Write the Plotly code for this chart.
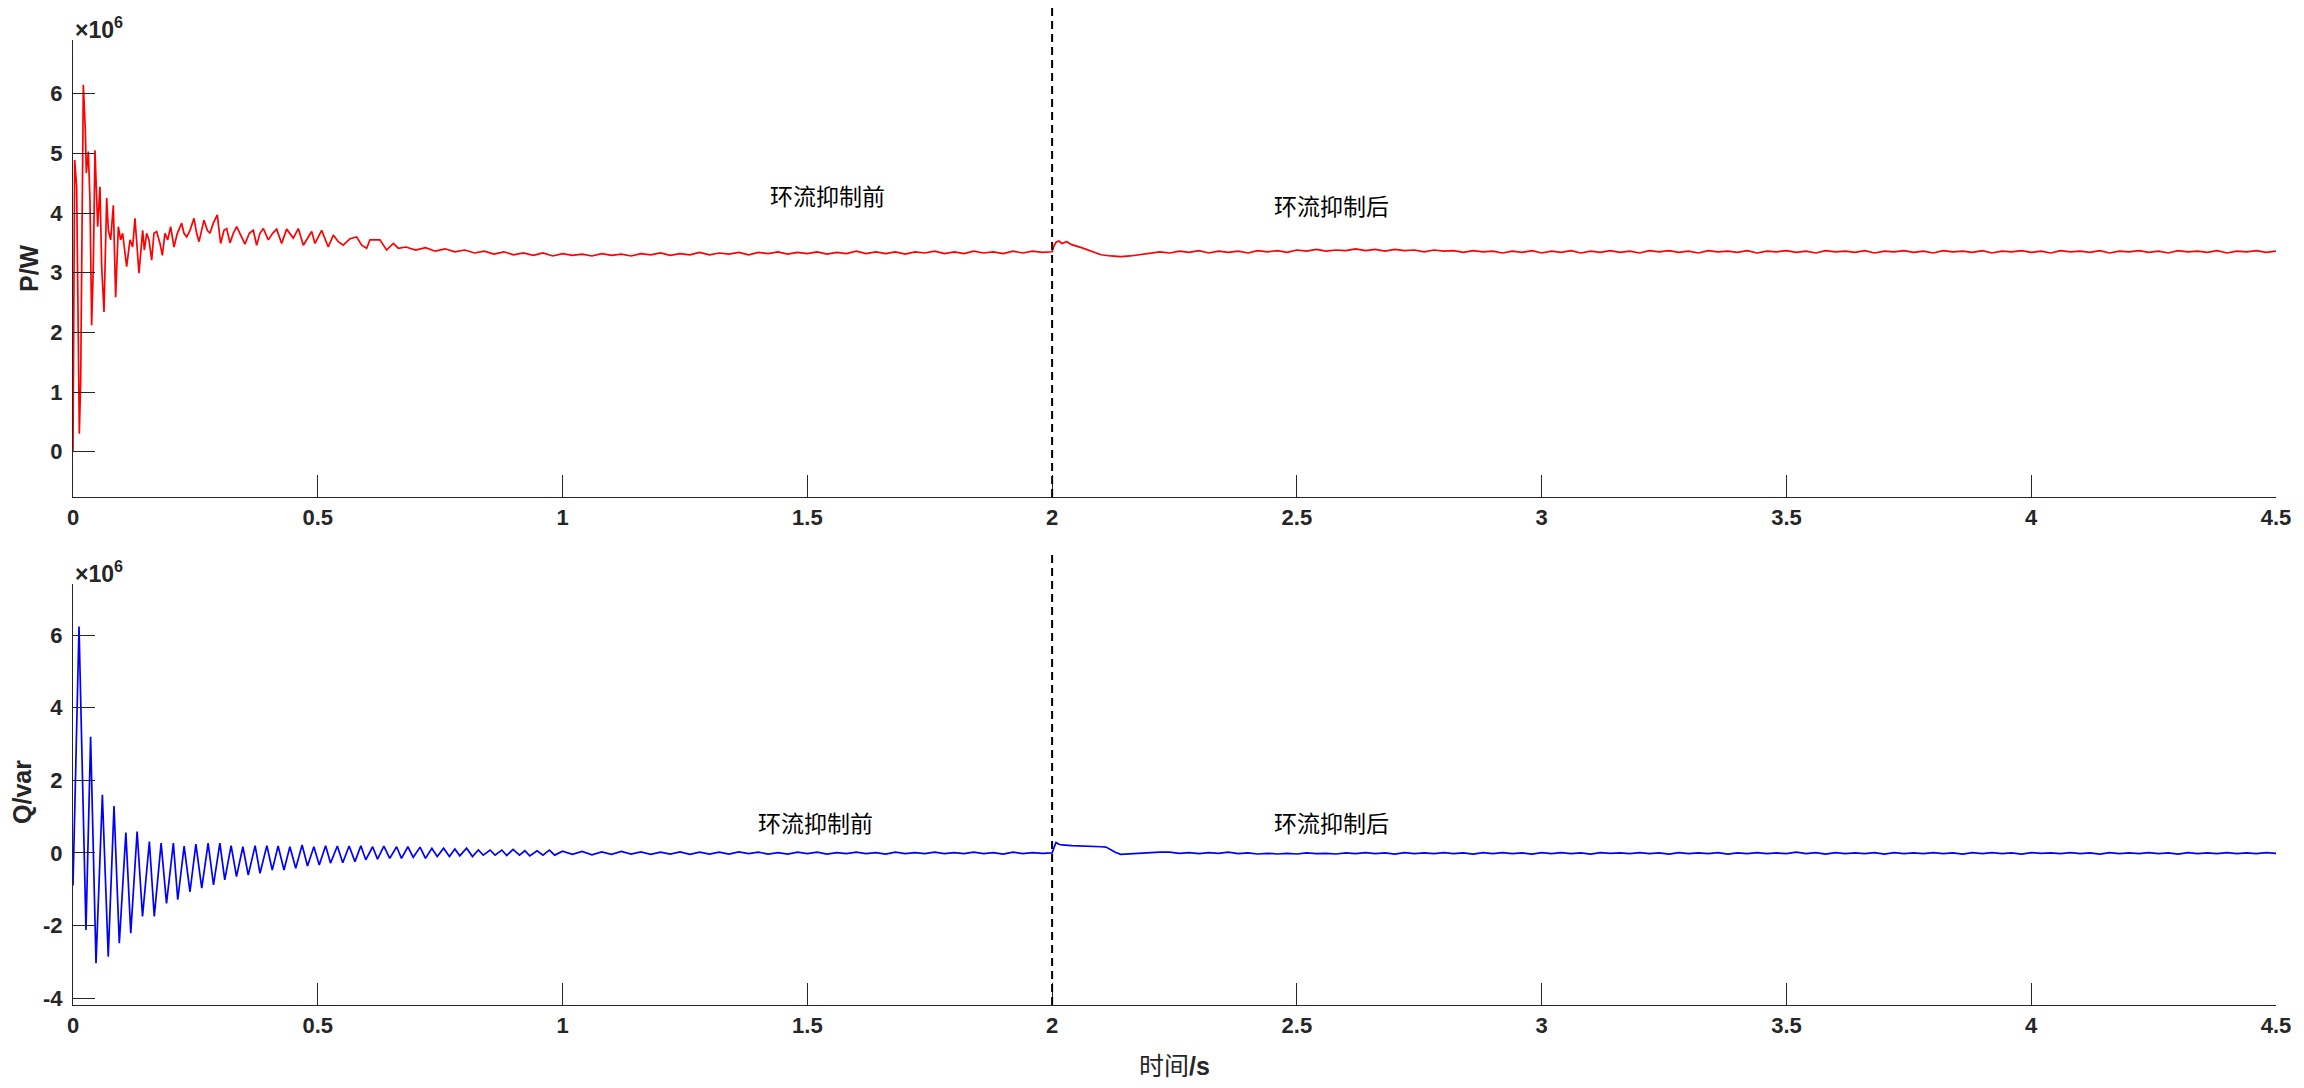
import plotly.graph_objects as go

PAGE_W, PAGE_H = 2304, 1088
OFF = 8  # default HTML body margin
W, H = PAGE_W - OFF, PAGE_H - OFF
SWITCH_T = 2.0
STEP = 0.02

x_tickvals = [0, 0.5, 1, 1.5, 2, 2.5, 3, 3.5, 4, 4.5]
x_ticktext = ["0", "0.5", "1", "1.5", "2", "2.5", "3", "3.5", "4", "4.5"]
p_tickvals = [0, 1, 2, 3, 4, 5, 6]
q_tickvals = [-4, -2, 0, 2, 4, 6]

# ---------- P (x1e6 W) ----------
p_t_transient = [0.0, 0.0034, 0.0075, 0.0102, 0.0129, 0.0157, 0.0184, 0.0211, 0.0252, 0.0272,
                 0.0313, 0.0347, 0.0381, 0.0415, 0.0449, 0.0483, 0.0504, 0.0551, 0.0586, 0.0633,
                 0.0688, 0.0722, 0.0769, 0.0824, 0.0871, 0.0926, 0.0974, 0.1014, 0.1096, 0.1164,
                 0.1219, 0.1266, 0.1348, 0.1423, 0.1457, 0.1505, 0.1552, 0.1607, 0.1654, 0.1709,
                 0.1777, 0.1825, 0.1879, 0.1934, 0.1995, 0.2063, 0.2131, 0.2220, 0.2267, 0.2322,
                 0.2390, 0.2471, 0.2526, 0.2574, 0.2628, 0.2676, 0.2744, 0.2798, 0.2866, 0.2948,
                 0.2975, 0.3016, 0.3084, 0.3139, 0.3207, 0.3275, 0.3343, 0.3411, 0.3513, 0.3602,
                 0.3683, 0.3751, 0.3819, 0.3888, 0.3990, 0.4078, 0.4160, 0.4262, 0.4364, 0.4500,
                 0.4602, 0.4705, 0.4875, 0.4943, 0.5079, 0.5215, 0.5317, 0.5419, 0.5521, 0.5658,
                 0.5794, 0.5896, 0.5998, 0.6066, 0.6270, 0.6406, 0.6543, 0.6645]
p_transient = [0.00, 4.89, 4.44, 2.54, 0.30, 1.19, 3.66, 6.15, 5.39, 4.67,
               5.03, 4.22, 2.12, 3.10, 5.05, 4.22, 3.77, 4.44, 3.10, 2.34,
               4.25, 3.71, 3.55, 4.13, 2.59, 3.77, 3.55, 3.66, 3.10, 3.55,
               3.43, 3.91, 2.99, 3.71, 3.38, 3.66, 3.55, 3.21, 3.66, 3.69,
               3.49, 3.29, 3.66, 3.55, 3.77, 3.43, 3.66, 3.83, 3.66, 3.60,
               3.71, 3.91, 3.66, 3.52, 3.71, 3.88, 3.71, 3.66, 3.83, 3.97,
               3.77, 3.49, 3.71, 3.74, 3.50, 3.66, 3.77, 3.66, 3.48, 3.66,
               3.71, 3.46, 3.66, 3.74, 3.55, 3.66, 3.73, 3.49, 3.73, 3.58,
               3.74, 3.46, 3.69, 3.49, 3.71, 3.43, 3.63, 3.52, 3.46, 3.57,
               3.60, 3.46, 3.41, 3.55, 3.55, 3.38, 3.49, 3.41]
p_steady1_start = 0.68
p_steady1 = [3.43, 3.38, 3.42, 3.36, 3.40, 3.35, 3.38, 3.33, 3.36, 3.31,
             3.35, 3.30, 3.33, 3.29, 3.33, 3.28, 3.32, 3.29, 3.31, 3.28,
             3.32, 3.29, 3.31, 3.28, 3.32, 3.30, 3.33, 3.29, 3.32, 3.30,
             3.34, 3.30, 3.33, 3.31, 3.34, 3.30, 3.34, 3.32, 3.35, 3.31,
             3.34, 3.32, 3.35, 3.31, 3.34, 3.32, 3.36, 3.32, 3.35, 3.32,
             3.35, 3.31, 3.35, 3.33, 3.36, 3.32, 3.35, 3.32, 3.36, 3.33,
             3.35, 3.32, 3.36, 3.33, 3.36, 3.34]
p_t_switch = [2.0, 2.004, 2.008, 2.014, 2.02, 2.03, 2.04, 2.06, 2.08, 2.10,
              2.12, 2.14, 2.16, 2.18, 2.20, 2.22]
p_switch = [3.35, 3.45, 3.51, 3.53, 3.49, 3.52, 3.47, 3.42, 3.36, 3.30,
            3.28, 3.27, 3.28, 3.30, 3.32, 3.35]
p_steady2_start = 2.24
p_steady2 = [3.33, 3.36, 3.34, 3.37, 3.33, 3.36, 3.34, 3.36, 3.33, 3.37,
             3.35, 3.37, 3.34, 3.38, 3.36, 3.39, 3.36, 3.38, 3.37, 3.40,
             3.37, 3.39, 3.36, 3.39, 3.37, 3.38, 3.35, 3.38, 3.36, 3.37,
             3.34, 3.37, 3.35, 3.36, 3.33, 3.36, 3.34, 3.37, 3.33, 3.36,
             3.34, 3.37, 3.33, 3.36, 3.34, 3.37, 3.34, 3.36, 3.33, 3.37,
             3.35, 3.37, 3.34, 3.36, 3.33, 3.37, 3.35, 3.36, 3.34, 3.37,
             3.33, 3.36, 3.35, 3.37, 3.34, 3.36, 3.33, 3.37, 3.35, 3.36,
             3.34, 3.37, 3.33, 3.36, 3.35, 3.37, 3.34, 3.36, 3.33, 3.37,
             3.35, 3.36, 3.34, 3.37, 3.33, 3.36, 3.35, 3.37, 3.34, 3.36,
             3.33, 3.37, 3.35, 3.36, 3.34, 3.37, 3.33, 3.36, 3.35, 3.37,
             3.34, 3.36, 3.33, 3.37, 3.35, 3.36, 3.34, 3.37, 3.33, 3.36,
             3.35, 3.37, 3.34, 3.36]

# ---------- Q (x1e6 var) ----------
q_t_transient = [0.0, 0.002, 0.0123, 0.0265, 0.036, 0.047, 0.060, 0.072, 0.0838, 0.0946,
                 0.108, 0.118, 0.131, 0.142, 0.156, 0.166, 0.180, 0.191, 0.205, 0.214,
                 0.227, 0.239, 0.251, 0.263, 0.276, 0.287, 0.300, 0.310, 0.323, 0.334,
                 0.347, 0.358, 0.372, 0.382, 0.396, 0.407, 0.419, 0.431, 0.443, 0.455,
                 0.468, 0.479, 0.492, 0.503, 0.516, 0.526, 0.540, 0.551, 0.564, 0.576,
                 0.588, 0.598, 0.612, 0.622, 0.635, 0.647, 0.661, 0.671, 0.684, 0.695,
                 0.709, 0.720, 0.733, 0.744, 0.757, 0.769, 0.780, 0.790, 0.804, 0.816,
                 0.828, 0.838, 0.852, 0.862, 0.876, 0.886, 0.899, 0.912, 0.923, 0.933,
                 0.948, 0.960, 0.973, 0.984]
q_transient = [-0.90, 0.30, 6.24, -2.12, 3.20, -3.04, 1.60, -2.86, 1.29, -2.49,
               0.56, -2.21, 0.59, -1.75, 0.31, -1.75, 0.27, -1.39, 0.27, -1.29,
               0.19, -1.07, 0.24, -0.97, 0.27, -0.88, 0.27, -0.74, 0.20, -0.65,
               0.17, -0.61, 0.20, -0.56, 0.20, -0.47, 0.19, -0.47, 0.17, -0.42,
               0.22, -0.36, 0.17, -0.33, 0.20, -0.28, 0.19, -0.27, 0.19, -0.24,
               0.20, -0.19, 0.17, -0.17, 0.19, -0.15, 0.17, -0.15, 0.17, -0.12,
               0.16, -0.15, 0.13, -0.10, 0.13, -0.10, 0.11, -0.08, 0.13, -0.10,
               0.08, -0.06, 0.08, -0.06, 0.08, -0.07, 0.10, -0.06, 0.06, -0.08,
               0.06, -0.06, 0.08, -0.06]
q_steady1_start = 1.00
q_steady1 = [0.05, -0.04, 0.04, -0.05, 0.03, -0.04, 0.04, -0.03, 0.03, -0.04,
             0.02, -0.03, 0.03, -0.04, 0.02, -0.03, 0.02, -0.03, 0.03, -0.02,
             0.02, -0.03, 0.01, -0.03, 0.02, -0.02, 0.02, -0.03, 0.01, -0.02,
             0.02, -0.02, 0.01, -0.03, 0.02, -0.02, 0.01, -0.02, 0.02, -0.02,
             0.01, -0.02, 0.02, -0.02, 0.01, -0.03, 0.02, -0.02, 0.01, -0.01]
q_t_switch = [2.0, 2.004, 2.008, 2.014, 2.02, 2.04, 2.06, 2.08, 2.10, 2.11,
              2.12, 2.13, 2.14, 2.16, 2.18, 2.20, 2.22]
q_switch = [0.00, 0.15, 0.29, 0.24, 0.22, 0.20, 0.19, 0.20, 0.17, 0.16,
            0.08, 0.01, -0.04, -0.02, 0.00, 0.01, 0.02]
q_steady2_start = 2.24
q_steady2 = [0.02, -0.01, 0.01, -0.02, 0.01, -0.01, 0.02, -0.02, 0.00, -0.03,
             -0.01, -0.03, -0.01, -0.03, 0.00, -0.02, -0.01, -0.03, 0.00, -0.02,
             0.01, -0.02, 0.00, -0.03, 0.01, -0.02, 0.00, -0.02, 0.01, -0.02,
             0.00, -0.03, 0.01, -0.02, 0.01, -0.02, 0.00, -0.03, 0.01, -0.02,
             0.01, -0.02, 0.00, -0.03, 0.01, -0.01, 0.00, -0.02, 0.01, -0.02,
             0.00, -0.03, 0.01, -0.02, 0.00, -0.02, 0.01, -0.03, 0.00, -0.02,
             0.01, -0.02, 0.00, -0.02, 0.02, -0.02, 0.01, -0.03, 0.01, -0.02,
             0.00, -0.02, 0.01, -0.03, 0.01, -0.02, 0.00, -0.02, 0.01, -0.02,
             0.00, -0.03, 0.01, -0.02, 0.01, -0.02, 0.00, -0.03, 0.01, -0.01,
             0.00, -0.02, 0.01, -0.02, 0.00, -0.03, 0.01, -0.02, 0.00, -0.02,
             0.01, -0.02, 0.00, -0.03, 0.01, -0.02, 0.00, -0.02, 0.01, -0.02,
             0.00, -0.02, 0.01, -0.01]

labels_before = "环流抑制前"
labels_after = "环流抑制后"
p_label_pos = [(1.542, 4.30), (2.571, 4.13)]
q_label_pos = [(1.516, 0.85), (2.571, 0.85)]


def grid(start, n):
    return [round(start + STEP * i, 4) for i in range(n)]


p_t = p_t_transient + grid(p_steady1_start, len(p_steady1)) + p_t_switch + grid(p_steady2_start, len(p_steady2))
p_v = p_transient + p_steady1 + p_switch + p_steady2
q_t = q_t_transient + grid(q_steady1_start, len(q_steady1)) + q_t_switch + grid(q_steady2_start, len(q_steady2))
q_v = q_transient + q_steady1 + q_switch + q_steady2

fig = go.Figure()
fig.add_trace(go.Scatter(x=p_t, y=p_v, mode="lines", line=dict(color="#FF0000", width=1.7),
                         xaxis="x", yaxis="y", showlegend=False))
fig.add_trace(go.Scatter(x=q_t, y=q_v, mode="lines", line=dict(color="#0000FF", width=1.7),
                         xaxis="x2", yaxis="y2", showlegend=False))


# page-pixel -> paper fraction (figure sits at OFF,OFF in the page)
def px(x):
    return (x - OFF) / W


def py(y):
    return 1 - (y - OFF) / H


AX_L, AX_R = 73, 2276
TOP_T, TOP_B = 40, 497
BOT_T, BOT_B = 584, 1005

tick_font = dict(family="Liberation Sans, Arial, sans-serif", size=22, color="#262626", weight="bold")
common_x = dict(range=[0, 4.5], tickmode="array", tickvals=x_tickvals, ticktext=x_ticktext,
                ticks="inside", ticklen=22, tickwidth=1, tickcolor="#262626",
                showline=True, linecolor="#262626", linewidth=1, mirror=False,
                showgrid=False, zeroline=False, tickfont=tick_font, automargin=False,
                ticklabelstandoff=1, domain=[px(AX_L), px(AX_R)])
common_y = dict(ticks="inside", ticklen=22, tickwidth=1, tickcolor="#262626",
                showline=True, linecolor="#262626", linewidth=1, mirror=False,
                showgrid=False, zeroline=False, tickfont=tick_font, automargin=False,
                ticklabelstandoff=5, tickmode="array")

fig.update_layout(
    width=W, height=H,
    margin=dict(l=0, r=0, t=0, b=0),
    paper_bgcolor="white", plot_bgcolor="white",
    xaxis=dict(common_x, anchor="y"),
    xaxis2=dict(common_x, anchor="y2"),
    yaxis=dict(common_y, anchor="x", range=[-0.76, 6.9], tickvals=p_tickvals,
               ticktext=[str(v) for v in p_tickvals], domain=[py(TOP_B), py(TOP_T)]),
    yaxis2=dict(common_y, anchor="x2", range=[-4.19, 7.41], tickvals=q_tickvals,
                ticktext=[str(v) for v in q_tickvals], domain=[py(BOT_B), py(BOT_T)]),
)

# dashed switching lines at t = SWITCH_T
fig.add_shape(type="line", xref="x", yref="paper", x0=SWITCH_T, x1=SWITCH_T,
              y0=py(TOP_B), y1=1.0, line=dict(color="black", width=2, dash="8px,5px"))
fig.add_shape(type="line", xref="x2", yref="paper", x0=SWITCH_T, x1=SWITCH_T,
              y0=py(BOT_B), y1=py(551), line=dict(color="black", width=2, dash="8px,5px"))

cjk_font = dict(family="Noto Sans CJK SC", size=23, color="black")
for (x, y), txt in zip(p_label_pos, [labels_before, labels_after]):
    fig.add_annotation(x=x, y=y, xref="x", yref="y", text=txt, showarrow=False, font=cjk_font,
                       xanchor="center", yanchor="middle")
for (x, y), txt in zip(q_label_pos, [labels_before, labels_after]):
    fig.add_annotation(x=x, y=y, xref="x2", yref="y2", text=txt, showarrow=False, font=cjk_font,
                       xanchor="center", yanchor="middle")

exp_font = dict(family="Liberation Sans, Arial, sans-serif", size=23, color="#262626", weight="bold")
fig.add_annotation(x=px(AX_L + 1), y=py(TOP_T + 4), xref="paper", yref="paper", xanchor="left",
                   yanchor="bottom", text="×10<sup>6</sup>", showarrow=False, font=exp_font,
                   borderpad=0)
fig.add_annotation(x=px(AX_L + 1), y=py(BOT_T + 4), xref="paper", yref="paper", xanchor="left",
                   yanchor="bottom", text="×10<sup>6</sup>", showarrow=False, font=exp_font,
                   borderpad=0)

ylab_font = dict(family="Liberation Sans, Arial, sans-serif", size=25, color="#262626", weight="bold")
fig.add_annotation(x=px(29), y=py(268), xref="paper", yref="paper", xanchor="center", yanchor="middle",
                   text="P/W", textangle=-90, showarrow=False, font=ylab_font)
fig.add_annotation(x=px(22), y=py(792), xref="paper", yref="paper", xanchor="center", yanchor="middle",
                   text="Q/var", textangle=-90, showarrow=False, font=ylab_font)

fig.add_annotation(x=px((AX_L + AX_R) / 2), y=py(1066), xref="paper", yref="paper",
                   xanchor="center", yanchor="middle",
                   text="时间<b>/s</b>", showarrow=False,
                   font=dict(family="Liberation Sans, Noto Sans CJK SC", size=25, color="#262626"))

fig.write_html("out.html")
